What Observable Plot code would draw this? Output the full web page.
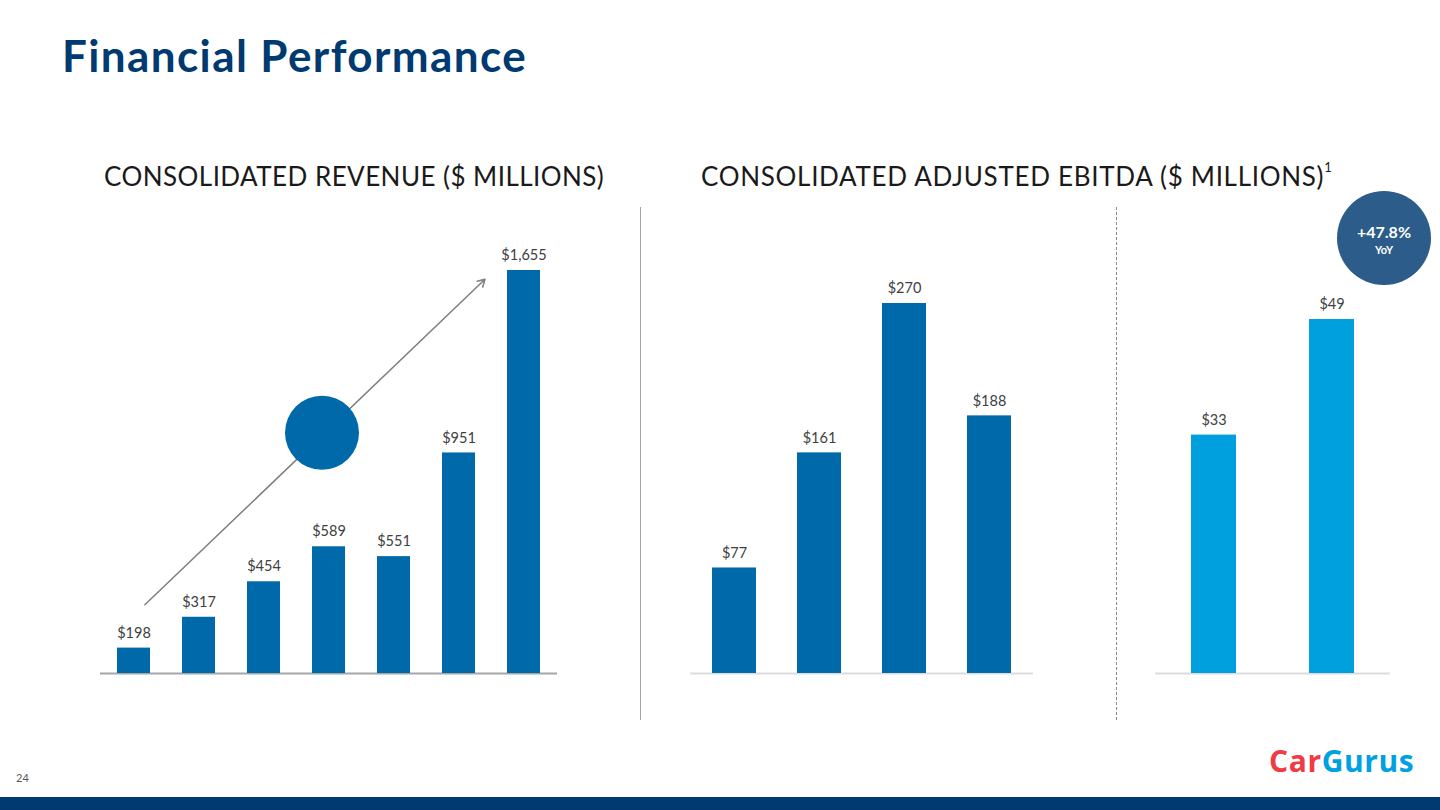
<!DOCTYPE html>
<html>
<head>
<meta charset="utf-8">
<script src="https://cdn.jsdelivr.net/npm/d3@7"></script>
<script src="https://cdn.jsdelivr.net/npm/@observablehq/plot@0.6"></script>
<style>
  html, body { margin: 0; padding: 0; background: #fff; }
  #page { position: relative; width: 1440px; height: 810px; overflow: hidden; font-family: Lato, "Open Sans", sans-serif; }
  .abs { position: absolute; }
  #title { left: 62px; top: 29px; font-size: 44px; font-weight: 700; color: #003a70; letter-spacing: 1.4px; white-space: nowrap; }
  .sub { font-size: 26px; color: #1a1a1a; white-space: nowrap; top: 160px; letter-spacing: 0.55px; }
  #sub1 { letter-spacing: 0.45px; }
  #sub2 { letter-spacing: 0.7px; }
  .sub sup { font-size: 13px; vertical-align: top; position: relative; top: -1px; letter-spacing: 0; }
  #sepSolid { left: 640px; top: 207px; width: 0; height: 513px; border-left: 1.5px solid #a6a6a6; }
  #sepDash { left: 1116px; top: 207px; width: 0; height: 513px; border-left: 1.5px dashed #8c8c8c; }
  #bubble { left: 1337px; top: 191px; width: 94px; height: 94px; border-radius: 50%; background: #2b5c8a; color: #fff; text-align: center; font-weight: 700; }
  #bubble .big { position: absolute; left: 0; right: 0; top: 31px; font-size: 16px; }
  #bubble .small { position: absolute; left: 0; right: 0; top: 52px; font-size: 11px; }
  #pageNum { left: 16px; top: 771px; font-size: 11px; color: #595959; }
  #logo { left: 1269px; top: 740px; font-size: 30px; font-weight: 700; letter-spacing: 0.6px; font-family: "Open Sans", sans-serif; }
  #logo .car { color: #ee3b45; }
  #logo .gurus { color: #00a1e0; }
  #band { left: 0; top: 797px; width: 1440px; height: 13px; background: #003a70; }
  .plot { position: absolute; }
  .plot svg { overflow: visible; }
</style>
</head>
<body>
<div id="page">
  <div id="title" class="abs">Financial Performance</div>
  <div id="sub1" class="abs sub" style="left:104px">CONSOLIDATED REVENUE ($ MILLIONS)</div>
  <div id="sub2" class="abs sub" style="left:701px">CONSOLIDATED ADJUSTED EBITDA ($ MILLIONS)<sup>1</sup></div>
  <div id="sepSolid" class="abs"></div>
  <div id="sepDash" class="abs"></div>
  <div id="revChart" class="plot" style="left:100px; top:230px"></div>
  <div id="ebitdaChart" class="plot" style="left:690px; top:263px"></div>
  <div id="qtrChart" class="plot" style="left:1155px; top:279px"></div>
  <div id="bubble" class="abs"><div class="big">+47.8%</div><div class="small">YoY</div></div>
  <div id="pageNum" class="abs">24</div>
  <div id="logo" class="abs"><span class="car">Car</span><span class="gurus">Gurus</span></div>
  <div id="band" class="abs"></div>
</div>
<script>
// ---- Data ----
const revenueYears = ["2016", "2017", "2018", "2019", "2020", "2021", "2022"];
const revenueValues = [198, 317, 454, 589, 551, 951, 1655];
const revenueLabels = ["$198", "$317", "$454", "$589", "$551", "$951", "$1,655"];

const ebitdaYears = ["2019", "2020", "2021", "2022"];
const ebitdaValues = [77, 161, 270, 188];
const ebitdaLabels = ["$77", "$161", "$270", "$188"];

const quarterPeriods = ["Q1 2022", "Q1 2023"];
const quarterValues = [33, 49];
const quarterLabels = ["$33", "$49"];

// revenue axis baseline (value axis does not start at zero in the original)
const revenueAxisMin = 100;
// trend arrow annotation (value units)
const trendArrow = [{from: "2016", to: "2022", v1: 325, v2: 1765}];
const trendBubble = [{at: "2019", v: 1029}];

// ---- Tables ----
const rev = revenueYears.map((k, i) => ({k, v: revenueValues[i], label: revenueLabels[i]}));
const ebitda = ebitdaYears.map((k, i) => ({k, v: ebitdaValues[i], label: ebitdaLabels[i]}));
const qtr = quarterPeriods.map((k, i) => ({k, v: quarterValues[i], label: quarterLabels[i]}));

const labelFont = {fontSize: 14.5, fill: "#404040", fontFamily: "Lato, sans-serif"};

// ---- Revenue ----
document.getElementById("revChart").append(Plot.plot({
  width: 457, height: 445,
  marginTop: 40, marginBottom: 2, marginLeft: 0, marginRight: 0,
  x: {type: "band", domain: revenueYears, paddingInner: 0.5, paddingOuter: 0.24, axis: null},
  y: {domain: [revenueAxisMin, 1655], axis: null},
  marks: [
    Plot.ruleY([revenueAxisMin], {stroke: "#a6a6a6", strokeWidth: 2}),
    Plot.barY(rev, {x: "k", y1: revenueAxisMin, y2: "v", fill: "#0069aa"}),
    Plot.arrow(trendArrow, {x1: "from", y1: "v1", x2: "to", y2: "v2", stroke: "#7f7f7f", strokeWidth: 1.5, headLength: 8, insetStart: 15, insetEnd: 54}),
    Plot.dot(trendBubble, {x: "at", y: "v", r: 37, dx: -7, fill: "#0069aa", stroke: "none"}),
    Plot.text(rev, {x: "k", y: "v", text: "label", dy: -15, ...labelFont})
  ]
}));

// ---- Adjusted EBITDA ----
document.getElementById("ebitdaChart").append(Plot.plot({
  width: 343, height: 412,
  marginTop: 40, marginBottom: 2, marginLeft: 0, marginRight: 0,
  x: {type: "band", domain: ebitdaYears, paddingInner: 0.483, paddingOuter: 0.236, axis: null},
  y: {domain: [0, 270], axis: null},
  marks: [
    Plot.ruleY([0], {stroke: "#dcdcdc", strokeWidth: 2}),
    Plot.barY(ebitda, {x: "k", y: "v", fill: "#0069aa"}),
    Plot.text(ebitda, {x: "k", y: "v", text: "label", dy: -15, ...labelFont})
  ]
}));

// ---- Quarterly Adjusted EBITDA ----
document.getElementById("qtrChart").append(Plot.plot({
  width: 235, height: 396,
  marginTop: 40, marginBottom: 2, marginLeft: 0, marginRight: 0,
  x: {type: "band", domain: quarterPeriods, paddingInner: 0.619, paddingOuter: 0.305, axis: null},
  y: {domain: [0, 49], axis: null},
  marks: [
    Plot.ruleY([0], {stroke: "#dcdcdc", strokeWidth: 2}),
    Plot.barY(qtr, {x: "k", y: "v", fill: "#00a0df"}),
    Plot.text(qtr, {x: "k", y: "v", text: "label", dy: -15, ...labelFont})
  ]
}));
</script>
</body>
</html>
